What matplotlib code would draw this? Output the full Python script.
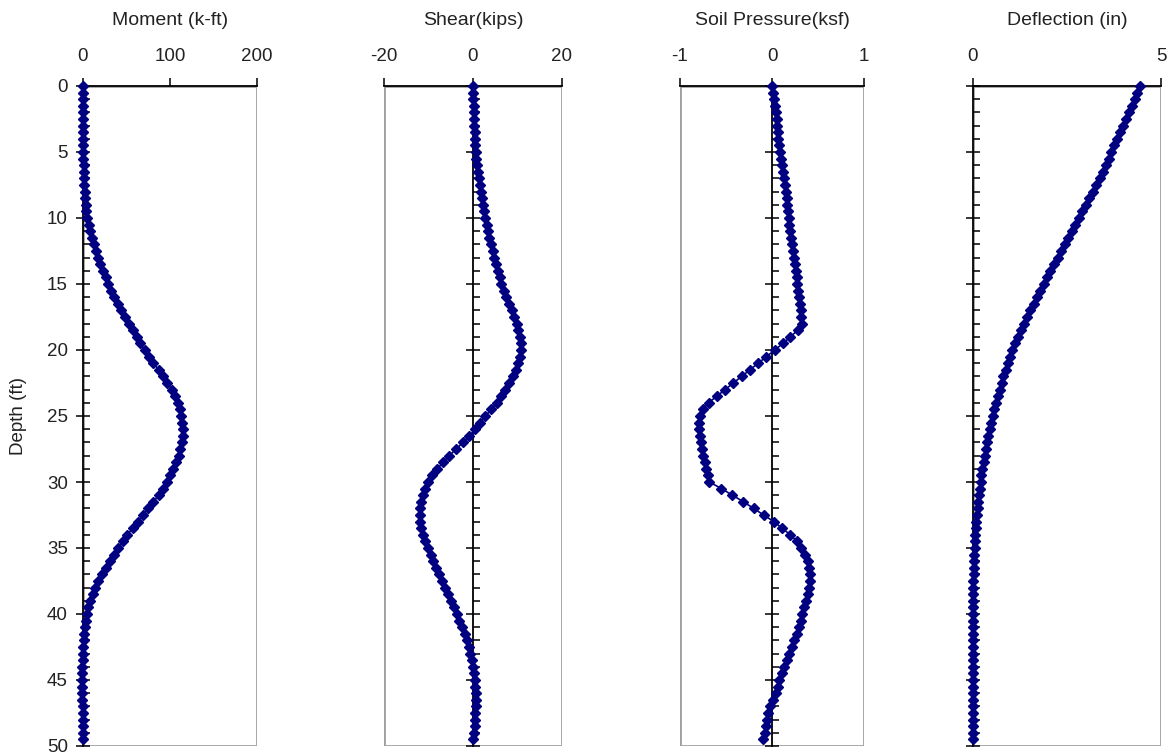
import numpy as np
import matplotlib
matplotlib.use('agg')
import matplotlib.pyplot as plt
from matplotlib.patches import Rectangle
from matplotlib.ticker import MultipleLocator

plt.rcParams['font.family'] = ['Liberation Sans', 'DejaVu Sans']

# depth of each output point (ft), every half foot
depth = np.arange(0, 50, 0.5)

moment = [
    0, 0, 0, 0, 0, 0.1, 0.1, 0.2, 0.2, 0.3,
    0.4, 0.5, 0.7, 0.9, 1.1, 1.4, 1.8, 2.3, 3.0, 3.8,
    5, 6.5, 8, 10, 12.5, 15, 17.5, 20, 23, 26,
    29, 32.5, 36, 40, 44, 48, 52.5, 57, 61.5, 66,
    71, 76, 81, 87, 92, 97, 102, 106, 109, 111,
    113, 114, 115, 115, 114, 112, 110, 107, 104, 100,
    96, 92, 87, 81, 75, 69, 63, 57, 51, 46,
    40, 35.5, 31, 26, 21.5, 17.5, 14, 11, 8.5, 6,
    4.5, 3, 2, 1.2, 0.6, 0.2, -0.2, -0.4, -0.6, -0.7,
    -0.7, -0.7, -0.7, -0.6, -0.5, -0.4, -0.3, -0.2, -0.1, 0,
]

shear = [
    0, 0.05, 0.1, 0.15, 0.2, 0.25, 0.3, 0.35, 0.4, 0.5,
    0.6, 0.75, 0.9, 1.1, 1.3, 1.5, 1.75, 2.0, 2.25, 2.5,
    2.8, 3.1, 3.4, 3.7, 4.0, 4.4, 4.8, 5.2, 5.6, 6.0,
    6.4, 6.9, 7.5, 8.1, 8.7, 9.3, 9.8, 10.2, 10.5, 10.7,
    10.7, 10.5, 10.1, 9.6, 9.0, 8.2, 7.3, 6.3, 5.3, 4.1,
    2.8, 1.6, 0.5, -0.8, -2.2, -3.8, -5.3, -6.7, -8.0, -9.2,
    -10.1, -10.8, -11.3, -11.7, -11.9, -12.0, -11.9, -11.6, -11.2, -10.7,
    -10.1, -9.5, -8.9, -8.3, -7.7, -7.0, -6.3, -5.6, -4.9, -4.3,
    -3.7, -3.1, -2.5, -1.9, -1.4, -1.0, -0.6, -0.3, 0.0, 0.2,
    0.4, 0.5, 0.6, 0.6, 0.6, 0.55, 0.5, 0.4, 0.25, 0.1,
]

soil_pressure = [
    0, 0.01, 0.02, 0.03, 0.04, 0.05, 0.05, 0.06, 0.07, 0.08,
    0.09, 0.10, 0.11, 0.12, 0.13, 0.14, 0.15, 0.16, 0.16, 0.17,
    0.18, 0.19, 0.20, 0.21, 0.22, 0.23, 0.24, 0.25, 0.26, 0.27,
    0.27, 0.28, 0.29, 0.30, 0.31, 0.32, 0.33, 0.28, 0.20, 0.12,
    0.03, -0.06, -0.15, -0.24, -0.33, -0.42, -0.51, -0.60, -0.69, -0.75,
    -0.78, -0.79, -0.79, -0.78, -0.77, -0.76, -0.75, -0.73, -0.72, -0.70,
    -0.68, -0.55, -0.43, -0.31, -0.20, -0.09, 0.02, 0.11, 0.20, 0.27,
    0.32, 0.36, 0.39, 0.40, 0.41, 0.41, 0.40, 0.39, 0.37, 0.35,
    0.33, 0.31, 0.29, 0.27, 0.24, 0.22, 0.19, 0.16, 0.13, 0.11,
    0.08, 0.06, 0.04, 0.01, -0.02, -0.04, -0.05, -0.07, -0.08, -0.10,
]

deflection = [
    4.45, 4.37, 4.30, 4.22, 4.14, 4.07, 3.99, 3.91, 3.84, 3.76,
    3.68, 3.61, 3.53, 3.45, 3.37, 3.28, 3.18, 3.09, 3.00, 2.90,
    2.81, 2.72, 2.62, 2.53, 2.44, 2.34, 2.25, 2.16, 2.06, 1.97,
    1.88, 1.79, 1.70, 1.61, 1.52, 1.44, 1.36, 1.28, 1.20, 1.12,
    1.05, 0.99, 0.93, 0.87, 0.81, 0.76, 0.71, 0.66, 0.62, 0.57,
    0.53, 0.49, 0.45, 0.41, 0.38, 0.34, 0.31, 0.28, 0.25, 0.22,
    0.20, 0.18, 0.16, 0.14, 0.12, 0.10, 0.09, 0.08, 0.06, 0.05,
    0.04, 0.03, 0.03, 0.02, 0.02, 0.01, 0.01, 0.01, 0.00, 0.00,
    0.00, -0.01, -0.01, -0.01, -0.01, -0.01, -0.01, -0.01, -0.01, -0.01,
    -0.01, -0.01, -0.01, -0.01, 0.00, 0.00, 0.00, 0.00, 0.00, 0.00,
]

titles = ['Moment (k-ft)', 'Shear(kips)', 'Soil Pressure(ksf)', 'Deflection (in)']
x_ranges = [(0, 200), (-20, 20), (-1, 1), (0, 5)]
x_ticks = [[0, 100, 200], [-20, 0, 20], [-1, 0, 1], [0, 5]]
depth_ticks = [0, 5, 10, 15, 20, 25, 30, 35, 40, 45, 50]

W, H = 1172, 756
# left edge and width of each panel in pixels
panel_px = [(83, 174), (384, 178), (680, 184), (973, 188)]


def draw_panel(fig, left, width, values, xlim, xticks, title, first):
    ax = fig.add_axes([left / W, 10 / H, width / W, 660 / H])
    ax.plot(values, depth, color='#000080', lw=1.2, marker='D', ms=5.0,
            mec='#000080', mfc='#000080', zorder=3, clip_on=False)
    ax.set_xlim(*xlim)
    ax.set_ylim(50, 0)

    # gray plot-area frame
    ax.add_patch(Rectangle((0, 0), 1, 1, transform=ax.transAxes, fill=False,
                           ec='#a0a0a0', lw=2.0, zorder=1))
    for side in ['right', 'bottom']:
        ax.spines[side].set_visible(False)
    ax.spines['top'].set_color('black')
    ax.spines['top'].set_linewidth(1.3)
    ax.spines['left'].set_position(('data', 0))
    ax.spines['left'].set_color('black')
    ax.spines['left'].set_linewidth(1.3)
    ax.spines['left'].set_zorder(2)

    ax.xaxis.tick_top()
    ax.set_xticks(xticks)
    ax.set_xticklabels([str(t) for t in xticks])
    ax.tick_params(axis='x', direction='out', length=6, width=1.1,
                   labelsize=13.5, labelcolor='#222222', pad=9)

    ax.set_yticks(depth_ticks)
    ax.yaxis.set_minor_locator(MultipleLocator(1))
    ax.tick_params(axis='y', which='major', direction='inout', length=10,
                   width=1.1, labelsize=13.5, labelcolor='#222222', pad=6,
                   labelleft=first)
    ax.tick_params(axis='y', which='minor', direction='in', length=5, width=1.1)

    ax.set_title(title, fontsize=14, color='#222222', pad=44)
    if first:
        ax.set_ylabel('Depth (ft)', fontsize=13.5, color='#222222', labelpad=14)
    return ax


fig = plt.figure(figsize=(W / 100, H / 100), dpi=100)
series = [moment, shear, soil_pressure, deflection]
for i in range(4):
    left, width = panel_px[i]
    draw_panel(fig, left, width, series[i], x_ranges[i], x_ticks[i], titles[i], i == 0)

fig.savefig('out.png', dpi=100)
plt.close(fig)
